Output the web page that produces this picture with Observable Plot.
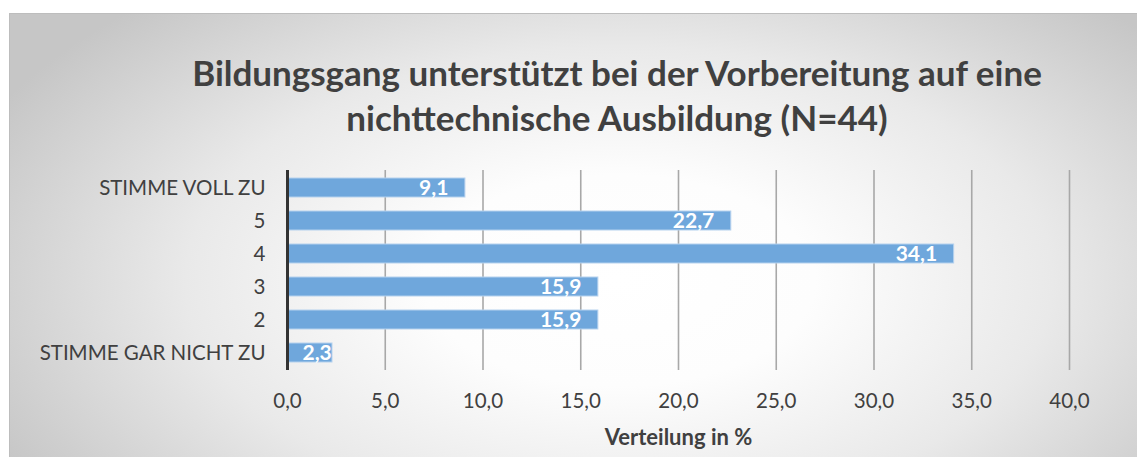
<!DOCTYPE html>
<html>
<head>
<meta charset="utf-8">
<script src="https://cdn.jsdelivr.net/npm/d3@7"></script>
<script src="https://cdn.jsdelivr.net/npm/@observablehq/plot@0.6"></script>
<style>
  html, body { margin: 0; padding: 0; background: #fff; }
  #page { position: relative; width: 1137px; height: 457px; overflow: hidden; background: #fff; }
  #frame {
    position: absolute; left: 9px; top: 13px; width: 1130px; height: 446px;
    box-sizing: border-box; border: 1px solid #bdbdbd;
    background: radial-gradient(ellipse 62% 85% at 54% 60%, #ffffff 0%, #fdfdfd 28%, #e9e9e9 62%, #c6c6c6 100%);
  }
  #title {
    position: absolute; left: 97px; width: 1040px; top: 50px;
    text-align: center; font-family: Lato, "Open Sans", sans-serif; font-weight: bold;
    font-size: 35px; line-height: 45px; color: #404040;
  }
  #chart { position: absolute; left: 9px; top: 150px; }
</style>
</head>
<body>
<div id="page">
  <div id="frame"></div>
  <div id="title">Bildungsgang unterstützt bei der Vorbereitung auf eine<br>nichttechnische Ausbildung (N=44)</div>
  <div id="chart"></div>
</div>
<script>
const categories = ["STIMME VOLL ZU", "5", "4", "3", "2", "STIMME GAR NICHT ZU"];
const values = [9.1, 22.7, 34.1, 15.9, 15.9, 2.3];
const xTicks = [0, 5, 10, 15, 20, 25, 30, 35, 40];
const xLabel = "Verteilung in %";

const data = categories.map((c, i) => ({cat: c, value: values[i]}));
const fmt = d => d.toFixed(1).replace(".", ",");
const font = "Lato, 'Open Sans', sans-serif";

const chart = Plot.plot({
  width: 1128,
  height: 307,
  marginLeft: 278,
  marginRight: 68,
  marginTop: 20,
  marginBottom: 87,
  style: {background: "transparent", fontFamily: font, overflow: "visible"},
  x: {domain: [0, 40], label: null},
  y: {domain: categories, label: null, paddingInner: 0.43, paddingOuter: 0.215},
  marks: [
    Plot.ruleX(xTicks.filter(d => d > 0), {stroke: "#a8a8a8", strokeWidth: 1.6}),
    Plot.barX(data, {y: "cat", x: "value", fill: "#6fa7dc", stroke: "#b5d1ee", strokeWidth: 1}),
    Plot.text(data.filter(d => d.value >= 5), {y: "cat", x: "value", text: d => fmt(d.value), textAnchor: "end", dx: -17, fill: "white", fontWeight: "bold", fontSize: 21}),
    Plot.text(data.filter(d => d.value < 5), {y: "cat", x: 0, text: d => fmt(d.value), textAnchor: "start", dx: 15, fill: "white", fontWeight: "bold", fontSize: 21}),
    Plot.ruleX([0], {stroke: "#333", strokeWidth: 3}),
    Plot.axisX(xTicks, {tickSize: 0, tickPadding: 23, tickFormat: fmt, fontSize: 20.5, color: "#404040", label: null}),
    Plot.axisY({tickSize: 0, tickPadding: 22, fontSize: 20.5, color: "#404040", label: null}),
    Plot.text([xLabel], {frameAnchor: "bottom", dy: 74, fontWeight: "bold", fontSize: 22, fill: "#404040"})
  ]
});
document.getElementById("chart").appendChild(chart);
</script>
</body>
</html>
